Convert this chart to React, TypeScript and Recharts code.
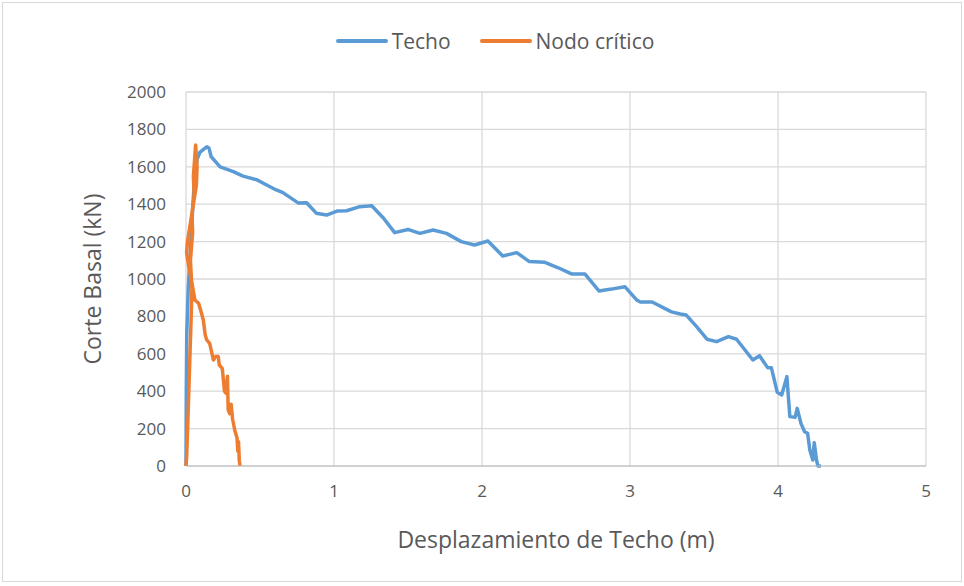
import React from 'react';
import { LineChart, Line, XAxis, YAxis, CartesianGrid, Legend } from 'recharts';

const techoX = [0, 0.002, 0.005, 0.015, 0.027, 0.05, 0.061, 0.075, 0.095, 0.14, 0.155, 0.17, 0.23, 0.32, 0.385, 0.48, 0.545, 0.61, 0.655, 0.76, 0.815, 0.88, 0.95, 1.02, 1.085, 1.175, 1.255, 1.335, 1.41, 1.5, 1.58, 1.67, 1.76, 1.86, 1.95, 2.04, 2.14, 2.235, 2.32, 2.425, 2.515, 2.605, 2.695, 2.79, 2.875, 2.965, 3.045, 3.07, 3.15, 3.28, 3.34, 3.38, 3.45, 3.52, 3.585, 3.665, 3.72, 3.83, 3.875, 3.93, 3.955, 3.995, 4.025, 4.06, 4.08, 4.115, 4.13, 4.155, 4.18, 4.2, 4.215, 4.235, 4.245, 4.26, 4.27, 4.29];
const techoY = [0, 400, 700, 950, 1118, 1440, 1560, 1640, 1679, 1707, 1700, 1654, 1600, 1574, 1550, 1530, 1503, 1476, 1462, 1406, 1408, 1352, 1342, 1363, 1365, 1387, 1392, 1325, 1248, 1265, 1244, 1262, 1244, 1200, 1182, 1203, 1123, 1141, 1093, 1089, 1060, 1027, 1027, 936, 946, 959, 888, 877, 877, 824, 813, 807, 745, 678, 665, 692, 678, 567, 590, 526, 526, 394, 380, 478, 264, 260, 308, 228, 183, 175, 86, 32, 125, 32, 0, 0];

const nodoX = [0, 0.005, 0.015, 0.025, 0.035, 0.04, 0.03, 0.045, 0.04, 0.055, 0.05, 0.065, 0.075, 0.07, 0.05, 0.03, 0.01, 0.004, 0.02, 0.04, 0.06, 0.085, 0.1, 0.117, 0.13, 0.14, 0.16, 0.185, 0.2, 0.218, 0.225, 0.245, 0.26, 0.27, 0.28, 0.285, 0.295, 0.305, 0.315, 0.33, 0.345, 0.35, 0.355, 0.36, 0.365];
const nodoY = [0, 60, 300, 550, 800, 950, 1100, 1250, 1350, 1450, 1550, 1716, 1600, 1500, 1400, 1300, 1200, 1140, 1060, 980, 888, 870, 830, 781, 700, 674, 656, 567, 585, 585, 540, 522, 400, 390, 480, 300, 280, 330, 250, 190, 150, 80, 130, 30, 0];

const xTicks = [0, 1, 2, 3, 4, 5];
const yTicks = [0, 200, 400, 600, 800, 1000, 1200, 1400, 1600, 1800, 2000];

const techoData = techoX.map((x, i) => ({ x, y: techoY[i] }));
const nodoData = nodoX.map((x, i) => ({ x, y: nodoY[i] }));

const font = '"Open Sans", sans-serif';
const textColor = '#595959';

function LegendContent() {
    const items = [
        { name: 'Techo', color: '#5b9bd5' },
        { name: 'Nodo crítico', color: '#ed7d31' },
    ];
    return (
        <div style={{ display: 'flex', justifyContent: 'center', gap: 29, paddingLeft: 26, fontFamily: font, fontSize: 21, color: textColor, height: 24, lineHeight: '24px' }}>
            {items.map(it => (
                <div key={it.name} style={{ display: 'flex', alignItems: 'center' }}>
                    <div style={{ width: 52, height: 3.5, background: it.color, marginRight: 4, borderRadius: 2 }} />
                    <span>{it.name}</span>
                </div>
            ))}
        </div>
    );
}

export default function App() {
    return (
        <div style={{ position: 'absolute', left: 0, top: 0, width: 964, height: 586, background: '#fff' }}>
            <div style={{ position: 'absolute', left: 2, top: 2, width: 958, height: 578, border: '1px solid #d9d9d9' }} />
            <LineChart width={964} height={586} margin={{ top: 68, right: 38, bottom: 0, left: 0 }}>
                <CartesianGrid stroke="#d9d9d9" strokeWidth={1.3} />
                <Legend
                    verticalAlign="top"
                    content={<LegendContent />}
                    wrapperStyle={{ top: 29, left: 0, width: 964 }}
                />
                <XAxis
                    type="number"
                    dataKey="x"
                    domain={[0, 5]}
                    ticks={xTicks}
                    allowDuplicatedCategory={false}
                    height={120}
                    stroke="#bfbfbf"
                    tickLine={false}
                    tickSize={0}
                    tickMargin={19}
                    tick={{ fill: textColor, fontSize: 17, fontFamily: font }}
                    label={{ value: 'Desplazamiento de Techo (m)', position: 'insideBottom', offset: 38, fill: textColor, fontSize: 23, fontFamily: font }}
                />
                <YAxis
                    type="number"
                    dataKey="y"
                    domain={[0, 2000]}
                    ticks={yTicks}
                    width={186}
                    axisLine={false}
                    tickLine={false}
                    tickSize={0}
                    tickMargin={20}
                    tick={{ fill: textColor, fontSize: 17, fontFamily: font }}
                    label={{ value: 'Corte Basal (kN)', angle: -90, position: 'center', dx: 0, fill: textColor, fontSize: 23, fontFamily: font }}
                />
                <Line data={techoData} dataKey="y" stroke="#5b9bd5" strokeWidth={3.5} dot={false} isAnimationActive={false} strokeLinejoin="round" />
                <Line data={nodoData} dataKey="y" stroke="#ed7d31" strokeWidth={3.5} dot={false} isAnimationActive={false} strokeLinejoin="round" />
            </LineChart>
        </div>
    );
}
